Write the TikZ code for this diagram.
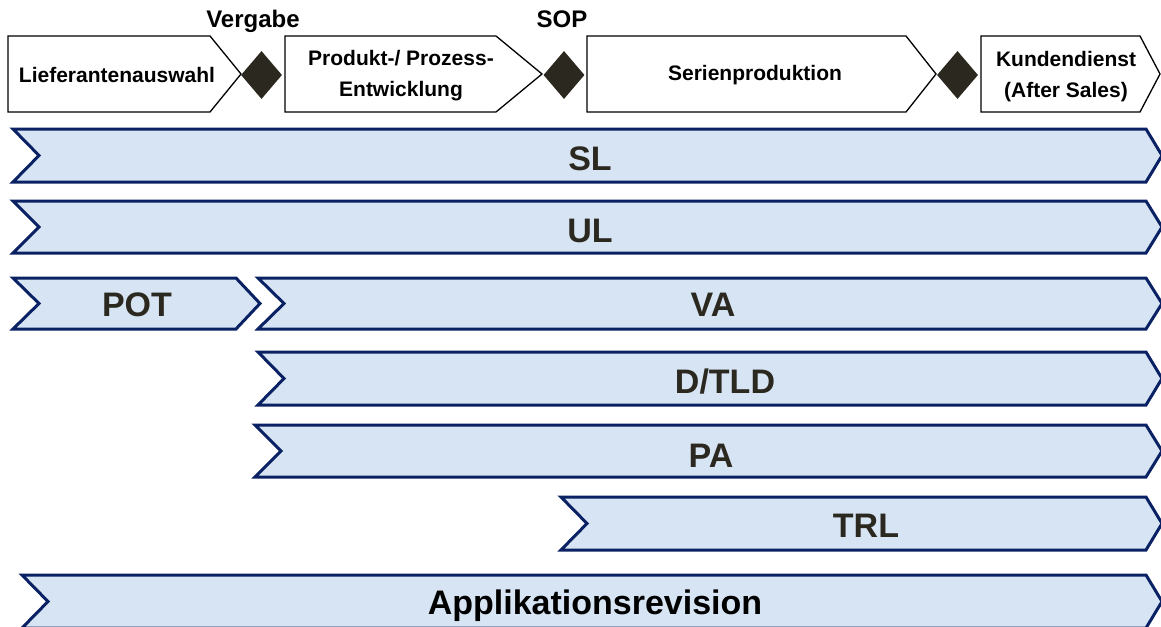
\documentclass[tikz,border=0pt]{standalone}
\usepackage{fontspec}
\setmainfont{Liberation Sans}
\usepackage{tikz}
\usetikzlibrary{shapes.geometric}
\definecolor{navy}{RGB}{10,33,100}
\definecolor{bandfill}{RGB}{215,228,243}
\definecolor{ink}{RGB}{43,40,32}
\definecolor{gatecol}{RGB}{43,40,31}

\begin{document}
\begin{tikzpicture}[
  x=1pt, y=-1pt,
  band/.style={draw=navy, fill=bandfill, line width=3pt, line join=miter},
  bandtext/.style={anchor=base, inner sep=0pt, text=ink, font=\bfseries\fontsize{34}{34}\selectfont},
  phase/.style={draw=black, fill=white, line width=1.3pt, line join=miter},
  phasetext/.style={inner sep=0pt, align=center, font=\bfseries\fontsize{21}{31}\selectfont},
  gate/.style={diamond, fill=gatecol, inner sep=0pt, minimum width=41, minimum height=48},
  gatetext/.style={anchor=base, inner sep=0pt, font=\bfseries\fontsize{24}{24}\selectfont}
]
\useasboundingbox (0,0) rectangle (1161,626);
\clip (0,0) rectangle (1161,626);

\draw[phase] (8,36) -- (210,36) -- (241,74) -- (210,112) -- (8,112) -- cycle;
\node[phasetext] (lief) at (117,75) {Lieferantenauswahl};
\draw[phase] (285,36) -- (496,36) -- (542,74) -- (496,112) -- (285,112) -- cycle;
\node[phasetext] (entw) at (401,76) {Produkt-/ Prozess-\\Entwicklung};
\draw[phase] (587,36) -- (906,36) -- (936,74) -- (906,112) -- (587,112) -- cycle;
\node[phasetext] (serie) at (755,75) {Serienproduktion};
\draw[phase] (981,36) -- (1140,36) -- (1160,74) -- (1140,112) -- (981,112) -- cycle;
\node[phasetext] (kunde) at (1066,77) {Kundendienst\\(After Sales)};

\node[gate] (gv) at (261.5,75) {};
\node[gate] (gs) at (564,75) {};
\node[gate] (gk) at (957.5,75) {};
\node[gatetext] (vergabe) at (253,28) {Vergabe};
\node[gatetext] (sop) at (562,28) {SOP};

\draw[band] (13,129) -- (1146,129) -- (1162,155.5) -- (1146,182) -- (13,182) -- (39,155.5) -- cycle;
\node[bandtext] (sl) at (590,170) {SL};
\draw[band] (13,201) -- (1146,201) -- (1162,227) -- (1146,253) -- (13,253) -- (39,227) -- cycle;
\node[bandtext] (ul) at (590,242) {UL};
\draw[band] (13,278) -- (236,278) -- (260,303.5) -- (236,329) -- (13,329) -- (39,303.5) -- cycle;
\node[bandtext] (pot) at (137,316) {POT};
\draw[band] (258,278) -- (1146,278) -- (1162,303.5) -- (1146,329) -- (258,329) -- (284,303.5) -- cycle;
\node[bandtext] (va) at (713,316) {VA};
\draw[band] (258,352) -- (1146,352) -- (1162,378.5) -- (1146,405) -- (258,405) -- (284,378.5) -- cycle;
\node[bandtext] (dtld) at (725,393) {D/TLD};
\draw[band] (255,425) -- (1146,425) -- (1162,451) -- (1146,477) -- (255,477) -- (281,451) -- cycle;
\node[bandtext] (pa) at (711,467) {PA};
\draw[band] (561,497) -- (1146,497) -- (1162,523.5) -- (1146,550) -- (561,550) -- (587,523.5) -- cycle;
\node[bandtext] (trl) at (866,537) {TRL};
\draw[band] (22,575) -- (1146,575) -- (1162,601.5) -- (1146,628) -- (22,628) -- (48,601.5) -- cycle;
\node[bandtext, text=black] (apprev) at (595,614) {Applikationsrevision};
\end{tikzpicture}
\end{document}
